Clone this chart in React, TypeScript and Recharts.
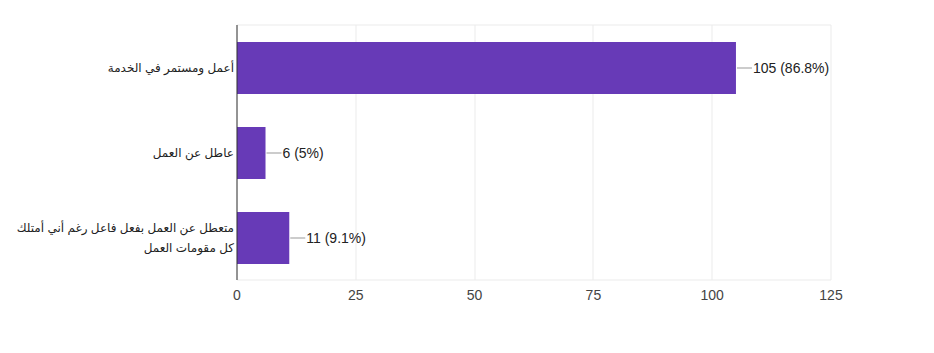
import React from "react";
import { BarChart, Bar, XAxis, YAxis, CartesianGrid, LabelList } from "recharts";

const categories: string[][] = [
  ["أعمل ومستمر في الخدمة"],
  ["عاطل عن العمل"],
  ["متعطل عن العمل بفعل فاعل رغم أني أمتلك", "كل مقومات العمل"],
];
const counts: number[] = [105, 6, 11];
const percents: string[] = ["86.8%", "5%", "9.1%"];
const xTicks: number[] = [0, 25, 50, 75, 100, 125];

const data = categories.map((c, i) => ({
  name: c.join(" "),
  lines: c,
  value: counts[i],
  label: `${counts[i]} (${percents[i]})`,
}));

const FONT = "Arial, 'Liberation Sans', 'DejaVu Sans', sans-serif";

const YTick = (props: any) => {
  const { y, payload } = props;
  const item = data.find((d) => d.name === payload.value);
  const lines = item ? item.lines : [payload.value];
  const lh = 20;
  const start = y - ((lines.length - 1) * lh) / 2;
  return (
    <g>
      {lines.map((l: string, i: number) => (
        <text
          key={i}
          x={234}
          y={start + i * lh}
          textAnchor="end"
          dominantBaseline="central"
          fontSize={12}
          fontFamily={FONT}
          fill="#222"
        >
          {l}
        </text>
      ))}
    </g>
  );
};

const BarLabel = (props: any) => {
  const { x, y, width, height, value } = props;
  const ex = x + width;
  const cy = y + height / 2;
  return (
    <g>
      <line x1={ex + 1} y1={cy} x2={ex + 16} y2={cy} stroke="#999" strokeWidth={1} />
      <text
        x={ex + 17}
        y={cy}
        dominantBaseline="central"
        fontSize={14}
        fontFamily={FONT}
        fill="#222"
      >
        {value}
      </text>
    </g>
  );
};

export default function App() {
  return (
    <div style={{ position: "absolute", left: 0, top: 0, background: "#fff" }}>
      <BarChart
        width={934}
        height={353}
        data={data}
        layout="vertical"
        margin={{ top: 25, right: 103, bottom: 43, left: 0 }}
      >
        <CartesianGrid
          stroke="#ebebeb"
          horizontalPoints={[25, 280]}
          verticalPoints={[237, 356, 475, 593, 712, 831]}
        />
        <XAxis
          type="number"
          domain={[0, 125]}
          ticks={xTicks}
          height={30}
          axisLine={false}
          tickLine={false}
          tickMargin={4}
          tick={{ fontSize: 14, fill: "#444", fontFamily: FONT }}
          interval={0}
        />
        <YAxis
          type="category"
          dataKey="name"
          width={237}
          axisLine={{ stroke: "#333", strokeWidth: 1 }}
          tickLine={false}
          tick={<YTick />}
          interval={0}
        />
        <Bar dataKey="value" fill="#673ab7" barSize={52} isAnimationActive={false}>
          <LabelList dataKey="label" content={<BarLabel />} />
        </Bar>
      </BarChart>
    </div>
  );
}
